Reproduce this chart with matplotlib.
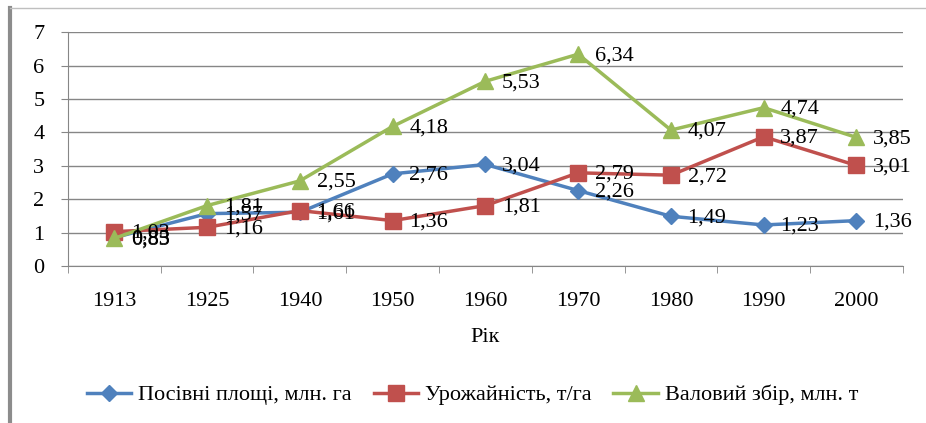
import matplotlib.pyplot as plt
import numpy as np
from matplotlib.lines import Line2D

years = ['1913', '1925', '1940', '1950', '1960', '1970', '1980', '1990', '2000']
area = [0.85, 1.57, 1.61, 2.76, 3.04, 2.26, 1.49, 1.23, 1.36]
yield_ = [1.03, 1.16, 1.66, 1.36, 1.81, 2.79, 2.72, 3.87, 3.01]
harvest = [0.83, 1.81, 2.55, 4.18, 5.53, 6.34, 4.07, 4.74, 3.85]

names = ['Посівні площі, млн. га', 'Урожайність, т/га', 'Валовий збір, млн. т']
colors = ['#4F81BD', '#C0504D', '#9BBB59']
markers = ['D', 's', '^']
msizes = [8, 11, 11]

plt.rcParams['font.family'] = ['Liberation Serif', 'DejaVu Serif']
FS = 16

fig = plt.figure(figsize=(9.26, 4.23), dpi=100)
ax = fig.add_axes([0.0734, 0.371, 0.9016, 0.553])

x = np.arange(len(years))
for vals, name, c, m, ms in zip([area, yield_, harvest], names, colors, markers, msizes):
    ax.plot(x, vals, color=c, lw=2.5, marker=m, ms=ms, label=name, zorder=3)
    for xi, v in zip(x, vals):
        ax.annotate(f'{v:.2f}'.replace('.', ','), (xi, v), xytext=(12, -1),
                    textcoords='offset points', ha='left', va='center',
                    fontsize=FS, zorder=4)

ax.set_xlim(-0.5, len(years) - 0.5)
ax.set_ylim(0, 7)
ax.set_yticks(range(8))
ax.grid(axis='y', color='#868686', lw=1)
ax.set_axisbelow(True)

ax.set_xticks(x)
ax.set_xticklabels(years)
ax.set_xticks(np.arange(-0.5, len(years)), minor=True)
ax.tick_params(axis='x', which='major', length=0, pad=19, labelsize=FS)
ax.tick_params(axis='x', which='minor', length=5, color='#868686')
ax.tick_params(axis='y', length=5, pad=12, labelsize=FS, color='#868686')

for s in ['top', 'right']:
    ax.spines[s].set_visible(False)
for s in ['left', 'bottom']:
    ax.spines[s].set_color('#868686')

ax.set_xlabel('Рік', fontsize=FS, labelpad=12)

fig.legend(loc='center', bbox_to_anchor=(0.51, 0.066), ncol=3, frameon=False,
           fontsize=FS, handlelength=2.0, columnspacing=1.0, handletextpad=0.3)

# frame lines around the picture
fig.add_artist(Line2D([0.011, 0.011], [0, 0.981], color='#8c8c8c', lw=3,
                      transform=fig.transFigure))
fig.add_artist(Line2D([0.011, 1], [0.981, 0.981], color='#bfbfbf', lw=1,
                      transform=fig.transFigure))

fig.savefig('out.png', dpi=100)
